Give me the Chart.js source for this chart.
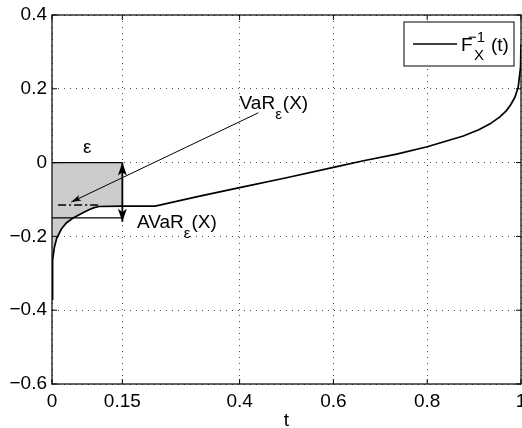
<!DOCTYPE html>
<html>
<head>
<meta charset="utf-8">
<script src="https://cdn.jsdelivr.net/npm/chart.js@4.4.0/dist/chart.umd.min.js"></script>
<style>
  html, body { margin: 0; padding: 0; background: #fff; }
  #wrap { width: 522px; height: 428px; }
</style>
</head>
<body>
<div id="wrap"><canvas id="myChart" width="522" height="428"></canvas></div>
<script>
// quantile function F_X^{-1}(t)
const tValues = [0, 0.0005, 0.002, 0.005, 0.01, 0.02, 0.031, 0.045, 0.06, 0.07, 0.08, 0.09, 0.1, 0.15, 0.22,
                 0.315, 0.4, 0.5, 0.6, 0.664, 0.735, 0.8, 0.877, 0.91, 0.934, 0.955, 0.969, 0.978, 0.987, 0.994, 0.999, 1];
const quantile = [-0.37, -0.31, -0.265, -0.23, -0.205, -0.18, -0.163, -0.15, -0.14, -0.133, -0.127, -0.122, -0.119, -0.118, -0.118,
                  -0.091, -0.068, -0.041, -0.013, 0.005, 0.023, 0.043, 0.072, 0.089, 0.105, 0.124, 0.141, 0.157, 0.177, 0.204, 0.258, 0.32];

const xTicks = [0, 0.15, 0.4, 0.6, 0.8, 1];
const xTickLabels = ['0', '0.15', '0.4', '0.6', '0.8', '1'];
const yTicks = [-0.6, -0.4, -0.2, 0, 0.2, 0.4];
const yTickLabels = ['\u22120.6', '\u22120.4', '\u22120.2', '0', '0.2', '0.4'];

// annotation values (data units)
const epsilon = 0.15;
const boxLevels = [0, -0.15];
const dashLevel = -0.115;
const dashRange = [0.013, 0.1];
const varFrom = [0.44, 0.135];
const varTo = [0.041, -0.107];
const avarSpan = [0, -0.16];

const curvePts = tValues.map((t, i) => ({ x: t, y: quantile[i] }));
const shadedPts = curvePts.filter(p => p.x <= epsilon);

const FONT = '"Liberation Sans", Arial, Helvetica, sans-serif';

function arrowHead(ctx, tx, ty, fx, fy, len, half) {
    const d = Math.hypot(fx - tx, fy - ty);
    const ux = (fx - tx) / d, uy = (fy - ty) / d;
    const nx = -uy, ny = ux;
    ctx.beginPath();
    ctx.moveTo(tx, ty);
    ctx.lineTo(tx + ux * len + nx * half, ty + uy * len + ny * half);
    ctx.lineTo(tx + ux * len * 0.75, ty + uy * len * 0.75);
    ctx.lineTo(tx + ux * len - nx * half, ty + uy * len - ny * half);
    ctx.closePath();
    ctx.fill();
}

function subText(ctx, main, sub, tail, x, y) {
    ctx.textAlign = 'left';
    ctx.font = '19px ' + FONT;
    ctx.fillText(main, x, y);
    x += ctx.measureText(main).width;
    ctx.font = '15px ' + FONT;
    ctx.fillText(sub, x, y + 10);
    x += ctx.measureText(sub).width + 1;
    ctx.font = '19px ' + FONT;
    ctx.fillText(tail, x, y);
}

const matlabFrame = {
    id: 'matlabFrame',
    afterDatasetsDraw(chart) {
        const { ctx, chartArea: a, scales: { x, y } } = chart;
        const px = v => x.getPixelForValue(v);
        const py = v => y.getPixelForValue(v);
        ctx.save();
        ctx.fillStyle = '#000';
        ctx.strokeStyle = '#000';

        // arrow heads
        arrowHead(ctx, px(varTo[0]), py(varTo[1]), px(varFrom[0]), py(varFrom[1]), 10, 3);
        arrowHead(ctx, px(epsilon), py(avarSpan[0]), px(epsilon), py(avarSpan[1]), 13, 4.5);
        arrowHead(ctx, px(epsilon), py(avarSpan[1]), px(epsilon), py(avarSpan[0]), 13, 4.5);

        // box and inward ticks
        ctx.lineWidth = 1.2;
        ctx.strokeRect(a.left, a.top, a.right - a.left, a.bottom - a.top);
        ctx.lineWidth = 1;
        ctx.beginPath();
        xTicks.forEach(v => {
            const p = px(v);
            ctx.moveTo(p, a.bottom); ctx.lineTo(p, a.bottom - 5);
            ctx.moveTo(p, a.top); ctx.lineTo(p, a.top + 5);
        });
        yTicks.forEach(v => {
            const p = py(v);
            ctx.moveTo(a.left, p); ctx.lineTo(a.left + 5, p);
            ctx.moveTo(a.right, p); ctx.lineTo(a.right - 5, p);
        });
        ctx.stroke();

        // text annotations
        ctx.textBaseline = 'alphabetic';
        ctx.font = '19px ' + FONT;
        ctx.textAlign = 'center';
        ctx.fillText('\u03b5', px(epsilon / 2), py(boxLevels[0]) - 10);
        subText(ctx, 'VaR', '\u03b5', '(X)', px(0.4), py(0.145));
        subText(ctx, 'AVaR', '\u03b5', '(X)', px(0.181), py(-0.177));

        // legend
        const bw = 110, bh = 44;
        const bx = a.right - 7 - bw, by = a.top + 7;
        ctx.fillStyle = '#fff';
        ctx.fillRect(bx, by, bw, bh);
        ctx.lineWidth = 1;
        ctx.strokeRect(bx, by, bw, bh);
        ctx.lineWidth = 1.7;
        ctx.beginPath();
        ctx.moveTo(bx + 9, by + 22);
        ctx.lineTo(bx + 53, by + 22);
        ctx.stroke();
        ctx.fillStyle = '#000';
        ctx.textAlign = 'left';
        ctx.font = '19px ' + FONT;
        ctx.fillText('F', bx + 57, by + 29);
        ctx.font = '15px ' + FONT;
        ctx.fillText('\u22121', bx + 64, by + 20);
        ctx.fillText('X', bx + 70, by + 37.5);
        ctx.font = '19px ' + FONT;
        ctx.fillText('(t)', bx + 87, by + 29);
        ctx.restore();
    }
};

function lineSet(data, width, dash) {
    return {
        data: data,
        borderColor: '#000',
        borderWidth: width,
        borderDash: dash || [],
        pointRadius: 0,
        fill: false
    };
}

const ctx = document.getElementById('myChart').getContext('2d');
new Chart(ctx, {
    type: 'line',
    data: {
        datasets: [
            lineSet(curvePts, 1.7),
            lineSet([{ x: 0, y: boxLevels[0] }, { x: epsilon, y: boxLevels[0] }], 1.2),
            lineSet([{ x: 0, y: boxLevels[1] }, { x: epsilon, y: boxLevels[1] }], 1.2),
            lineSet([{ x: dashRange[0], y: dashLevel }, { x: dashRange[1], y: dashLevel }], 1.4, [8, 3, 2, 3]),
            lineSet([{ x: varFrom[0], y: varFrom[1] }, { x: varTo[0], y: varTo[1] }], 1),
            lineSet([{ x: epsilon, y: avarSpan[0] }, { x: epsilon, y: avarSpan[1] }], 1.8),
            {
                data: shadedPts,
                borderWidth: 0,
                borderColor: 'rgba(0,0,0,0)',
                backgroundColor: '#cccccc',
                pointRadius: 0,
                fill: 'origin'
            }
        ]
    },
    options: {
        responsive: false,
        animation: false,
        events: [],
        layout: { padding: { top: 15, right: 1, left: 0, bottom: 0 } },
        plugins: { legend: { display: false }, tooltip: { enabled: false } },
        scales: {
            x: {
                type: 'linear',
                min: 0,
                max: 1,
                afterBuildTicks: s => { s.ticks = xTicks.map(v => ({ value: v })); },
                afterFit: s => { s.height = 44; s.paddingLeft = 0; s.paddingRight = 0; },
                ticks: {
                    callback: (v, i) => xTickLabels[i],
                    color: '#000',
                    font: { family: FONT, size: 19 },
                    padding: 6,
                    maxRotation: 0,
                    autoSkip: false
                },
                grid: { color: 'rgba(0,0,0,0.7)', lineWidth: 1, drawTicks: false },
                border: { display: false, dash: [1, 5] },
                title: {
                    display: true,
                    text: 't',
                    color: '#000',
                    font: { family: FONT, size: 19, lineHeight: 0.8 },
                    padding: { top: 0, bottom: 0 }
                }
            },
            y: {
                type: 'linear',
                min: -0.6,
                max: 0.4,
                afterBuildTicks: s => { s.ticks = yTicks.map(v => ({ value: v })); },
                afterFit: s => { s.width = 52; s.paddingTop = 0; s.paddingBottom = 0; },
                ticks: {
                    callback: (v, i) => yTickLabels[i],
                    color: '#000',
                    font: { family: FONT, size: 19 },
                    padding: 5,
                    autoSkip: false
                },
                grid: { color: 'rgba(0,0,0,0.7)', lineWidth: 1, drawTicks: false },
                border: { display: false, dash: [1, 5] }
            }
        }
    },
    plugins: [matlabFrame]
});
</script>
</body>
</html>
